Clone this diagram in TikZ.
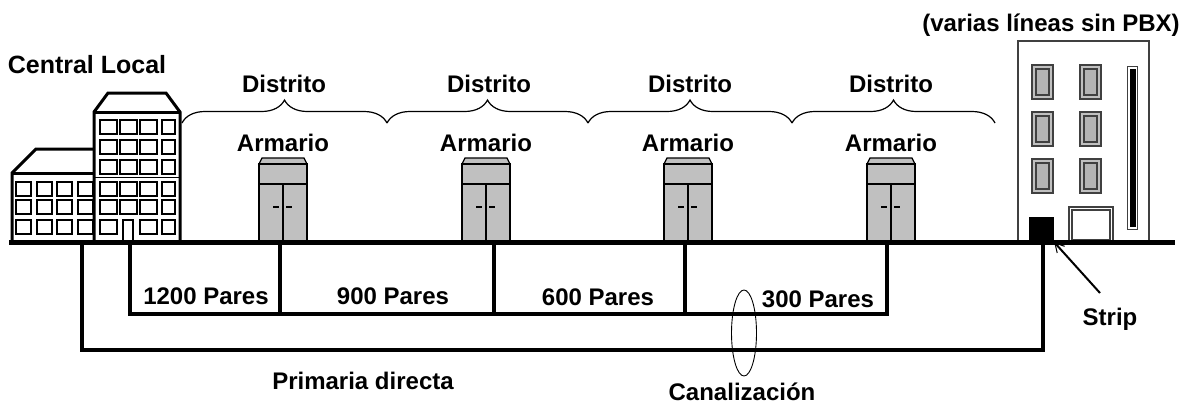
\documentclass[tikz,border=0pt]{standalone}
\usepackage{fontspec}
\setmainfont{Liberation Sans}
\usetikzlibrary{decorations.pathreplacing,arrows.meta}

\definecolor{cabgray}{HTML}{C0C0C0}
\definecolor{wingray}{HTML}{B4B4B4}
\definecolor{edgegray}{HTML}{404040}

\begin{document}
\begin{tikzpicture}[x=1pt,y=-1pt,
  lbl/.style={font=\bfseries\fontsize{24}{28}\selectfont, inner sep=0pt, anchor=base},
  ground/.style={line width=5pt},
  cable/.style={line width=4pt},
  bld/.style={line width=3pt, line join=miter},
  win/.style={line width=2.6pt},
  cab/.style={fill=cabgray, draw=black, line width=1.3pt},
  brc/.style={decorate, decoration={brace, amplitude=23pt}, line width=1.2pt},
  hwin/.style={fill=cabgray, draw=edgegray, line width=1.4pt}]
\useasboundingbox (0,0) rectangle (1193,408);

% ---- Central Local building ----
\draw[bld] (12,242) -- (12,173) -- (36,149) -- (94,149);
\draw[bld] (12,173) -- (94,173);
\draw[bld] (94,242) -- (94,112) -- (108,93) -- (166,93) -- (180,112) -- (180,242);
\draw[bld] (94,112) -- (180,112);
\draw[line width=1pt] (94,177) -- (180,177);
% windows of the low wing
\foreach \wx in {16,37,57,78}
  \foreach \wy in {182,200,220}
    \draw[win] (\wx,\wy) rectangle ++(15,14);
% windows of the tower
\foreach \wx/\ww in {100/17,120/17,140/17,162/13}
  \foreach \wy in {120,140,160,182,200}
    \draw[win] (\wx,\wy) rectangle ++(\ww,14);
\foreach \wx/\ww in {100/17,140/17,162/13}
  \draw[win] (\wx,220) rectangle ++(\ww,14);
% entrance door
\draw[line width=2pt] (123,242) -- (123,220) -- (133,220) -- (133,242);

% ---- subscriber building ----
\draw[edgegray, line width=1.5pt] (1018,242) -- (1018,41) -- (1149,41) -- (1149,242);
\foreach \wx in {1032,1080}
  \foreach \wy in {65,112,159} {
    \draw[hwin] (\wx,\wy) rectangle ++(21,34);
    \draw[fill=wingray, draw=edgegray, line width=1.4pt] (\wx+4,\wy+4) rectangle ++(13,26);
  }
\draw[edgegray, fill=white, line width=1pt] (1127,66) rectangle (1137,229);
\fill[black] (1130,69) rectangle (1136,227);
\draw[edgegray, fill=white, line width=1.2pt] (1069,207) rectangle (1113,242);
\draw[edgegray, line width=1.2pt] (1072,210) rectangle (1110,240);
\node[fill=black, minimum width=25pt, minimum height=25pt, inner sep=0pt] (strip) at (1041.5,229.5) {};

% ---- cabinets ----
\foreach \cx in {283,486,688,891} {
  \begin{scope}[shift={(\cx,0)}]
    \draw[cab] (-21,158) -- (21,158) -- (24,164) -- (-24,164) -- cycle;
    \draw[cab] (-24,164) rectangle (24,184);
    \draw[cab] (-24,184) rectangle (24,242);
    \draw[line width=2.5pt] (-24,184) -- (24,184);
    \draw[line width=1.3pt] (0,184) -- (0,242);
    \draw[line width=2.5pt] (-10,207) -- (-4,207) (3,207) -- (9,207);
  \end{scope}
}

% ---- ground line ----
\coordinate (gL) at (9,242);
\coordinate (gR) at (1175,242);
\draw[ground] (gL) -- (gR);

% ---- cable routes ----
\coordinate (p0) at (82,242);
\coordinate (p1) at (82,350);
\coordinate (p2) at (1043,350);
\coordinate (p3) at (1043,242);
\draw[cable, line join=miter] (p0) -- (p1) -- (p2) -- (p3);

\coordinate (s0) at (130,242);
\coordinate (s1) at (130,314);
\coordinate (s2) at (887,314);
\coordinate (s3) at (887,242);
\draw[cable, line join=miter] (s0) -- (s1) -- (s2) -- (s3);
\foreach \dx in {280,494,685}
  \draw[cable] (\dx,242) -- (\dx,314);

% ---- district braces ----
\coordinate (b0) at (182,123);
\coordinate (b1) at (387,123);
\coordinate (b2) at (588,123);
\coordinate (b3) at (792,123);
\coordinate (b4) at (995,123);
\draw[brc] (b0) -- (b1);
\draw[brc] (b1) -- (b2);
\draw[brc] (b2) -- (b3);
\draw[brc] (b3) -- (b4);

% ---- conduit ring ----
\draw[line width=0.9pt] (744,333) ellipse [x radius=12.5, y radius=43];

% ---- labels ----
\node[lbl, font=\bfseries\fontsize{25}{29}\selectfont] (central) at (87,73) {Central Local};
\foreach \cx/\k in {284/1,489/2,690/3,891/4} {
  \node[lbl] (dist\k) at (\cx,92) {Distrito};
}
\foreach \cx/\k in {283/1,486/2,688/3,891/4} {
  \node[lbl] (arm\k) at (\cx,151) {Armario};
}
\node[lbl] (p1200) at (206,304) {1200 Pares};
\node[lbl] (p900) at (393,304) {900 Pares};
\node[lbl] (p600) at (598,305) {600 Pares};
\node[lbl] (p300) at (818,307) {300 Pares};
\node[lbl] (prim) at (363,389) {Primaria directa};
\node[lbl] (canal) at (742,400) {Canalización};
\node[lbl] (striplbl) at (1110,325) {Strip};
\node[lbl] (varias) at (1051,31) {(varias líneas sin PBX)};

% ---- strip pointer ----
\coordinate (sa) at (1100,293);
\draw[line width=2pt, -{Straight Barb[length=9pt, width=10pt, line width=1pt]}] (sa) -- (strip.south east);

\end{tikzpicture}
\end{document}
